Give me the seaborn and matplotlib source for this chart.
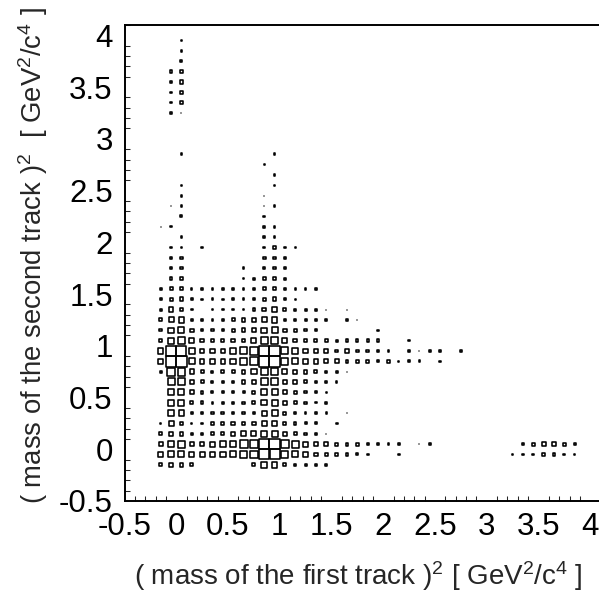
import pandas as pd
import seaborn as sns
from matplotlib import pyplot as plt
from matplotlib.ticker import MultipleLocator

# first entry of every row is the bin centred on x = -0.15, bins are 0.1 wide
first_bin_x = -0.15
bin_width = 0.1

y_395 = [0, 0, 2]
y_385 = [0, 0, 3]
y_375 = [0, 0, 4]
y_365 = [0, 5, 12]
y_355 = [0, 7, 14]
y_345 = [0, 2, 7]
y_335 = [0, 3, 5]
y_325 = [0, 3, 1]
y_285 = [0, 0, 3, 0, 0, 0, 0, 0, 0, 0, 0, 3]
y_275 = [0, 0, 0, 0, 0, 0, 0, 0, 0, 0, 2]
y_265 = [0, 0, 0, 0, 0, 0, 0, 0, 0, 0, 0, 3]
y_255 = [0, 0, 2, 0, 0, 0, 0, 0, 0, 0, 0, 3]
y_245 = [0, 0, 3, 0, 0, 0, 0, 0, 0, 0, 1]
y_235 = [0, 1, 2, 0, 0, 0, 0, 0, 0, 0, 1, 3]
y_225 = [0, 0, 4, 0, 0, 0, 0, 0, 0, 0, 3]
y_215 = [1, 2, 0, 0, 0, 0, 0, 0, 0, 0, 3, 3]
y_205 = [0, 0, 3, 0, 0, 0, 0, 0, 0, 0, 3, 3]
y_195 = [0, 3, 2, 0, 3, 0, 0, 0, 0, 0, 3, 5, 3, 2]
y_185 = [0, 4, 5, 0, 0, 0, 0, 0, 0, 0, 7, 7, 4]
y_175 = [0, 3, 7, 0, 0, 0, 0, 0, 2, 0, 6, 7, 4]
y_165 = [0, 7, 8, 0, 0, 0, 0, 0, 3, 4, 8, 8, 4]
y_155 = [3, 9, 9, 2, 2, 3, 3, 2, 2, 2, 9, 9, 3, 2, 2, 3]
y_145 = [3, 9, 14, 3, 2, 3, 2, 3, 3, 3, 9, 14, 3, 2]
y_135 = [4, 20, 14, 3, 0, 3, 3, 3, 3, 6, 14, 20, 9, 4, 4, 4, 1, 0, 1]
y_125 = [8, 25, 30, 6, 3, 3, 3, 8, 14, 12, 25, 30, 6, 4, 4, 4, 3, 0, 3, 1]
y_115 = [6, 30, 36, 12, 6, 6, 6, 9, 14, 20, 30, 36, 12, 8, 6, 3, 0, 0, 0, 0, 0, 2]
y_105 = [9, 36, 49, 25, 12, 9, 9, 12, 14, 25, 49, 49, 25, 14, 14, 9, 6, 4, 8, 5, 5, 5, 0, 0, 3]
y_095 = [30, 100, 100, 36, 20, 20, 20, 30, 49, 64, 110, 110, 49, 36, 20, 20, 14, 8, 14, 6, 6, 5, 3, 0, 3, 1, 3, 3, 0, 2]
y_085 = [30, 110, 110, 36, 20, 20, 20, 30, 49, 64, 110, 110, 49, 36, 25, 20, 14, 14, 8, 6, 8, 4, 7, 2, 3, 3, 0, 2]
y_075 = [5, 60, 60, 20, 9, 4, 9, 9, 14, 30, 49, 49, 25, 14, 14, 9, 4, 3, 1]
y_065 = [0, 49, 49, 14, 9, 4, 6, 5, 14, 20, 49, 49, 20, 14, 9, 5, 5, 2]
y_055 = [0, 36, 36, 14, 6, 4, 4, 5, 4, 9, 36, 36, 14, 9, 5, 3, 2]
y_045 = [0, 36, 36, 9, 6, 3, 4, 3, 5, 9, 30, 36, 14, 9, 5, 2, 3]
y_035 = [0, 36, 30, 6, 6, 6, 8, 5, 5, 6, 25, 36, 9, 6, 3, 2, 2, 0, 1]
y_025 = [2, 25, 14, 2, 3, 6, 9, 12, 14, 14, 25, 25, 9, 6, 4, 4, 0, 3]
y_015 = [8, 20, 14, 3, 3, 9, 9, 14, 25, 25, 36, 36, 20, 9, 5, 3, 1]
y_005 = [14, 36, 49, 20, 20, 25, 30, 36, 64, 64, 110, 110, 60, 49, 25, 14, 14, 9, 8, 8, 5, 3, 3, 3, 0, 1, 3,
         0, 0, 0, 0, 0, 0, 0, 0, 6, 9, 14, 14, 8, 3]
y_m005 = [20, 36, 36, 25, 25, 25, 30, 36, 60, 60, 100, 100, 49, 36, 20, 14, 9, 6, 8, 4, 3, 0, 0, 3,
          0, 0, 0, 0, 0, 0, 0, 0, 0, 0, 3, 3, 3, 9, 6, 3, 2]
y_m015 = [9, 20, 12, 9, 0, 0, 0, 0, 0, 9, 36, 30, 9, 4, 4, 4, 3]

row_centres = [3.95, 3.85, 3.75, 3.65, 3.55, 3.45, 3.35, 3.25, 2.85, 2.75, 2.65, 2.55, 2.45, 2.35, 2.25, 2.15,
               2.05, 1.95, 1.85, 1.75, 1.65, 1.55, 1.45, 1.35, 1.25, 1.15, 1.05, 0.95, 0.85, 0.75, 0.65, 0.55,
               0.45, 0.35, 0.25, 0.15, 0.05, -0.05, -0.15]
rows = [y_395, y_385, y_375, y_365, y_355, y_345, y_335, y_325, y_285, y_275, y_265, y_255, y_245, y_235, y_225,
        y_215, y_205, y_195, y_185, y_175, y_165, y_155, y_145, y_135, y_125, y_115, y_105, y_095, y_085, y_075,
        y_065, y_055, y_045, y_035, y_025, y_015, y_005, y_m005, y_m015]

tick_values = [-0.5, 0, 0.5, 1, 1.5, 2, 2.5, 3, 3.5, 4]
tick_labels = ['-0.5', '0', '0.5', '1', '1.5', '2', '2.5', '3', '3.5', '4']

records = []
for yc, row in zip(row_centres, rows):
    for i, n in enumerate(row):
        if n > 0:
            records.append((first_bin_x + i * bin_width, yc, n))
hist = pd.DataFrame(records, columns=['m1', 'm2', 'n'])

sns.set_style("white")
plt.rcParams['font.family'] = ['Liberation Sans', 'DejaVu Sans']
plt.rcParams['mathtext.default'] = 'regular'

fig = plt.figure(figsize=(5.99, 5.93), dpi=100)
# frame runs off the right edge of the picture
ax = fig.add_axes([124.5 / 599, 1 - 501 / 593, (599 - 124.5) / 599, (501 - 25) / 593])

# box area follows the bin content, marker side in points from n in pixels^2
px2 = 0.72 ** 2
big = hist[hist.n > 1]
small = hist[hist.n <= 1]
sns.scatterplot(data=big, x='m1', y='m2', size='n', sizes=(2 * px2, 110 * px2), size_norm=(2, 110),
                marker='s', facecolor='none', edgecolor='black', linewidth=1.15, legend=False, ax=ax)
sns.scatterplot(data=small, x='m1', y='m2', s=2.5, marker='s', color='0.6', linewidth=0, legend=False, ax=ax)

ax.set_xlim(-0.5, 4.085)
ax.set_ylim(-0.5, 4.1)
ax.xaxis.set_minor_locator(MultipleLocator(0.1))
ax.yaxis.set_minor_locator(MultipleLocator(0.1))
ax.set_xticks(tick_values)
ax.set_xticklabels(tick_labels)
ax.set_yticks(tick_values)
ax.set_yticklabels(tick_labels)
ax.tick_params(which='major', direction='in', length=7.2, width=0.75, labelsize=22.5, colors='black')
ax.tick_params(which='minor', direction='in', length=3.6, width=0.75, left=True, bottom=True)
ax.tick_params(axis='x', which='major', pad=8)
ax.tick_params(axis='y', which='major', pad=8.5)
ax.spines['right'].set_visible(False)
for name in ['left', 'bottom', 'top']:
    ax.spines[name].set_linewidth(1.4)
    ax.spines[name].set_color('black')

ax.set_xlabel('( mass of the first track )$^2$ [ GeV$^2$/c$^4$ ]', fontsize=20, loc='right')
ax.set_ylabel('( mass of the second track )$^2$  [ GeV$^2$/c$^4$ ]', fontsize=19.8, loc='top')
ax.xaxis.set_label_coords((583 - 124.5) / 474.5, -0.122)
ax.yaxis.set_label_coords(-0.158, 1.038)

fig.savefig('out.png', dpi=100)
